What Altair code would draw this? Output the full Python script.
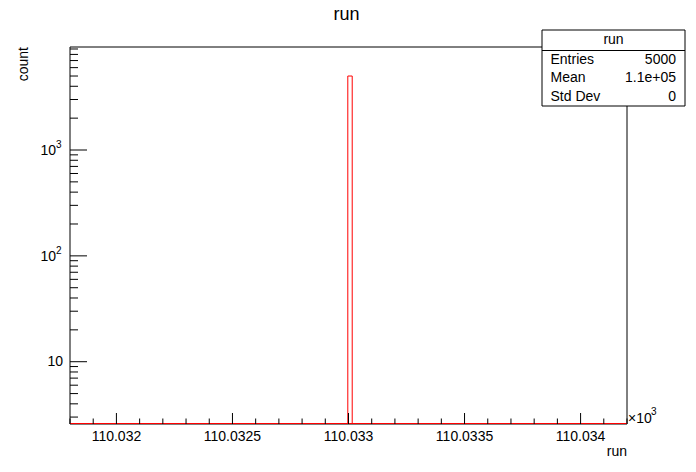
import altair as alt
import pandas as pd

# ---- data (x values in units of 10^3) ----
bin_left = [110.032997]
bin_right = [110.033016]
bin_count = [5000]

x_major = [110.032, 110.0325, 110.033, 110.0335, 110.034]
x_labels = ["110.032", "110.0325", "110.033", "110.0335", "110.034"]
x_minor = [110.0318, 110.0319, 110.0321, 110.0322, 110.0323, 110.0324,
           110.0326, 110.0327, 110.0328, 110.0329, 110.0331, 110.0332,
           110.0333, 110.0334, 110.0336, 110.0337, 110.0338, 110.0339,
           110.0341, 110.0342]

y_plain_val = [10]
y_plain_lab = ["10"]
y_pow_val = [100, 1000]
y_pow_base = ["10", "10"]
y_pow_exp = ["2", "3"]
y_major = [10, 100, 1000]
y_minor = [3, 4, 5, 6, 7, 8, 9, 20, 30, 40, 50, 60, 70, 80, 90,
           200, 300, 400, 500, 600, 700, 800, 900,
           2000, 3000, 4000, 5000, 6000, 7000, 8000, 9000]

stat_names = ["Entries", "Mean", "Std Dev"]
stat_values = ["5000", "1.1e+05", "0"]

W, H = 557, 377
FONT = "Liberation Sans"
xs = alt.Scale(domain=[110.0318, 110.0342])
ys = alt.Scale(type="log", domain=[2.58, 9400])

one = pd.DataFrame({"k": [0]})

frame = alt.Chart(one).mark_rect(fillOpacity=0, stroke="black", strokeWidth=1).encode(
    x=alt.value(0), x2=alt.value(W), y=alt.value(0), y2=alt.value(H))

hist_df = pd.DataFrame({"l": bin_left, "r": bin_right, "c": bin_count})
bar = alt.Chart(hist_df).mark_rect(fillOpacity=0, stroke="#ff0000", strokeWidth=1, clip=True).encode(
    x=alt.X("l:Q", scale=xs, axis=None), x2="r:Q",
    y=alt.Y("c:Q", scale=ys, axis=None), y2=alt.value(H))

base_line = alt.Chart(one).mark_rule(color="#ff0000", strokeWidth=1).encode(
    x=alt.value(0), x2=alt.value(W), y=alt.value(H - 0.5))

xmaj_df = pd.DataFrame({"v": x_major, "t": x_labels})
xmaj = alt.Chart(xmaj_df).mark_rule(color="black", strokeWidth=1).encode(
    x=alt.X("v:Q", scale=xs, axis=None), y=alt.value(H - 11), y2=alt.value(H))
xmin_df = pd.DataFrame({"v": x_minor})
xmin = alt.Chart(xmin_df).mark_rule(color="black", strokeWidth=1).encode(
    x=alt.X("v:Q", scale=xs, axis=None), y=alt.value(H - 5.5), y2=alt.value(H))
xlab = alt.Chart(xmaj_df).mark_text(font=FONT, fontSize=14, align="center", baseline="middle", color="black").encode(
    x=alt.X("v:Q", scale=xs, axis=None), y=alt.value(H + 13), text="t:N")

ymaj_df = pd.DataFrame({"v": y_major})
ymaj = alt.Chart(ymaj_df).mark_rule(color="black", strokeWidth=1).encode(
    y=alt.Y("v:Q", scale=ys, axis=None), x=alt.value(0), x2=alt.value(17))
ymin_df = pd.DataFrame({"v": y_minor})
ymin = alt.Chart(ymin_df).mark_rule(color="black", strokeWidth=1).encode(
    y=alt.Y("v:Q", scale=ys, axis=None), x=alt.value(0), x2=alt.value(8))
plain_df = pd.DataFrame({"v": y_plain_val, "t": y_plain_lab})
ylab_plain = alt.Chart(plain_df).mark_text(font=FONT, fontSize=14, align="right", baseline="middle", color="black").encode(
    y=alt.Y("v:Q", scale=ys, axis=None), x=alt.value(-7), text="t:N")
pow_df = pd.DataFrame({"v": y_pow_val, "b": y_pow_base, "e": y_pow_exp})
ylab_base = alt.Chart(pow_df).mark_text(font=FONT, fontSize=14, align="right", baseline="middle", dy=1, color="black").encode(
    y=alt.Y("v:Q", scale=ys, axis=None), x=alt.value(-14), text="b:N")
ylab_exp = alt.Chart(pow_df).mark_text(font=FONT, fontSize=10, align="left", baseline="middle", dy=-5, color="black").encode(
    y=alt.Y("v:Q", scale=ys, axis=None), x=alt.value(-14), text="e:N")

title = alt.Chart(one).mark_text(text="run", font=FONT, fontSize=18, align="center", baseline="alphabetic", color="black").encode(
    x=alt.value(276.5), y=alt.value(-27))
xtitle = alt.Chart(one).mark_text(text="run", font=FONT, fontSize=14, align="right", baseline="middle", color="black").encode(
    x=alt.value(W), y=alt.value(405))
xexp_base = alt.Chart(one).mark_text(text="×10", font=FONT, fontSize=14, align="left", baseline="alphabetic", color="black").encode(
    x=alt.value(W + 1), y=alt.value(H - 1))
xexp_pow = alt.Chart(one).mark_text(text="3", font=FONT, fontSize=10, align="left", baseline="alphabetic", color="black").encode(
    x=alt.value(W + 24), y=alt.value(H - 9))
ytitle = alt.Chart(one).mark_text(text="count", font=FONT, fontSize=14, align="right", baseline="middle", angle=270, color="black").encode(
    x=alt.value(-46), y=alt.value(0))

# stats box
BX0, BX1, BY0, BY1 = 472, 615, -17, 59
box = alt.Chart(one).mark_rect(fill="white", stroke="black", strokeWidth=1).encode(
    x=alt.value(BX0), x2=alt.value(BX1), y=alt.value(BY0), y2=alt.value(BY1))
sep = alt.Chart(one).mark_rule(color="black", strokeWidth=1).encode(
    x=alt.value(BX0), x2=alt.value(BX1), y=alt.value(3.5))
box_title = alt.Chart(one).mark_text(text="run", font=FONT, fontSize=14, align="center", baseline="middle", color="black").encode(
    x=alt.value((BX0 + BX1) / 2), y=alt.value(-7))
stats_df = pd.DataFrame({"n": stat_names, "v": stat_values, "row": [0, 1, 2]})
stat_y = alt.Y("row:Q", scale=alt.Scale(domain=[0, 2], range=[12.5, 49.5]), axis=None)
stat_n = alt.Chart(stats_df).mark_text(font=FONT, fontSize=14, align="left", baseline="middle", color="black").encode(
    x=alt.value(480.5), y=stat_y, text="n:N")
stat_v = alt.Chart(stats_df).mark_text(font=FONT, fontSize=14, align="right", baseline="middle", color="black").encode(
    x=alt.value(606), y=stat_y, text="v:N")

chart = alt.layer(
    frame, bar, base_line, xmaj, xmin, xlab, ymaj, ymin, ylab_plain, ylab_base, ylab_exp,
    title, xtitle, xexp_base, xexp_pow, ytitle, box, sep, box_title, stat_n, stat_v
).resolve_scale(y="independent").properties(
    width=W, height=H,
    autosize=alt.AutoSizeParams(type="none"),
    padding={"left": 62, "top": 39, "right": 61, "bottom": 40},
    background="white",
).configure_view(stroke=None)

chart.save("out.html", embed_options={"renderer": "svg", "actions": False})
